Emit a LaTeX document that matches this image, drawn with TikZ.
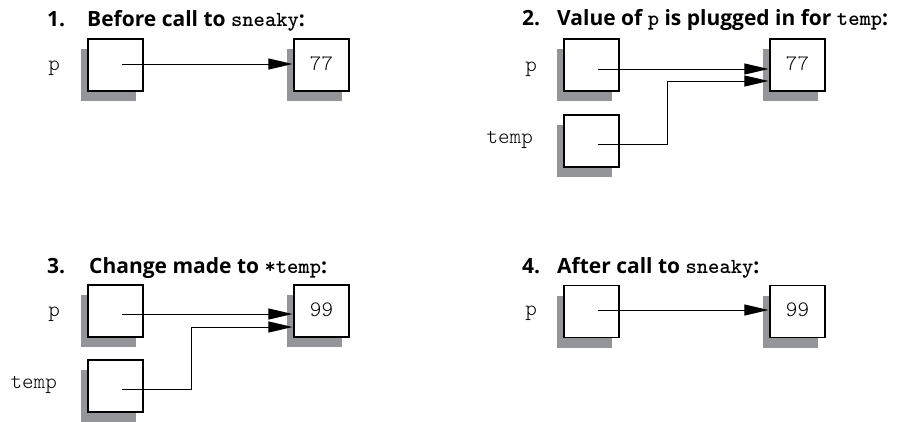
\documentclass[tikz,border=0pt]{standalone}
\usepackage{fontspec}
\setmainfont{Open Sans}
\newfontfamily\cdfont{lmmonolt10-bold.otf}
\usetikzlibrary{arrows.meta,shadows}
\definecolor{shadowgray}{RGB}{148,149,153}
\newcommand{\cd}[1]{{\fontsize{21.5}{21.5}\cdfont #1}}
\tikzset{
  cell/.style={draw=black, line width=1.1pt, fill=white, minimum width=55pt, minimum height=52pt, inner sep=0pt,
    text depth=3pt, font=\fontsize{22}{22}\fontseries{l}\ttfamily,
    drop shadow={shadow xshift=-7pt, shadow yshift=-10pt, fill=shadowgray, opacity=1}},
  ptr/.style={line width=0.9pt, -{Triangle[length=24pt,width=11pt]}, shorten >=1pt},
  var/.style={anchor=base east, font=\fontsize{22}{22}\fontseries{l}\ttfamily, inner sep=0pt},
  num/.style={anchor=base west, inner sep=0pt, font=\fontsize{21}{21}\bfseries},
  ttl/.style={anchor=base west, inner sep=0pt, font=\fontsize{21}{21}\bfseries}
}
\begin{document}
\begin{tikzpicture}[x=1pt, y=-1pt]
\useasboundingbox (0,0) rectangle (901,421);
% ---- panel 1
\node[num] (n1) at (47,26) {1.};
\node[ttl] (t1) at (87,26) {Before call to \cd{sneaky}:};
\node[var] (l1) at (60,70) {p};
\node[cell] (p1) at (115.5,65) {};
\node[cell] (v1) at (321.5,65) {77};
\coordinate (s1) at ([xshift=6pt,yshift=1pt]p1.center);
\draw[ptr] (s1) -- (s1 -| v1.west);
% ---- panel 2
\node[num] (n2) at (522,25) {2.};
\node[ttl] (t2) at (557,25) {Value of \cd{p} is plugged in for \cd{temp}:};
\node[var] (l2) at (537,71) {p};
\node[var] (l2b) at (533,143) {temp};
\node[cell] (p2) at (591.5,65) {};
\node[cell] (q2) at (591.5,141) {};
\node[cell] (v2) at (797.5,65) {77};
\coordinate (s2) at ([xshift=6pt,yshift=-4pt]p2.center);
\draw[ptr] (s2) -- (s2 -| v2.west);
\coordinate (u2) at ([xshift=6pt,yshift=-3pt]q2.center);
\coordinate (e2) at ([yshift=-16pt]v2.west);
\draw[ptr] (u2) -- ++(70,0) |- (e2);
% ---- panel 3
\node[num] (n3) at (47,273) {3.};
\node[ttl] (t3) at (89,273) {Change made to \cd{*temp}:};
\node[var] (l3) at (60,316) {p};
\node[var] (l3b) at (57,388) {temp};
\node[cell] (p3) at (115.5,311) {};
\node[cell] (q3) at (115.5,386) {};
\node[cell] (v3) at (321.5,311) {99};
\coordinate (s3) at ([xshift=6pt,yshift=-3pt]p3.center);
\draw[ptr] (s3) -- (s3 -| v3.west);
\coordinate (u3) at ([xshift=6pt,yshift=-3pt]q3.center);
\coordinate (e3) at ([yshift=-16pt]v3.west);
\draw[ptr] (u3) -- ++(70,0) |- (e3);
% ---- panel 4
\node[num] (n4) at (522,273) {4.};
\node[ttl] (t4) at (557,273) {After call to \cd{sneaky}:};
\node[var] (l4) at (537,315) {p};
\node[cell] (p4) at (591.5,311.5) {};
\node[cell] (v4) at (797.5,311.5) {99};
\coordinate (s4) at ([xshift=6pt,yshift=1.5pt]p4.center);
\draw[ptr] (s4) -- (s4 -| v4.west);
\end{tikzpicture}
\end{document}
